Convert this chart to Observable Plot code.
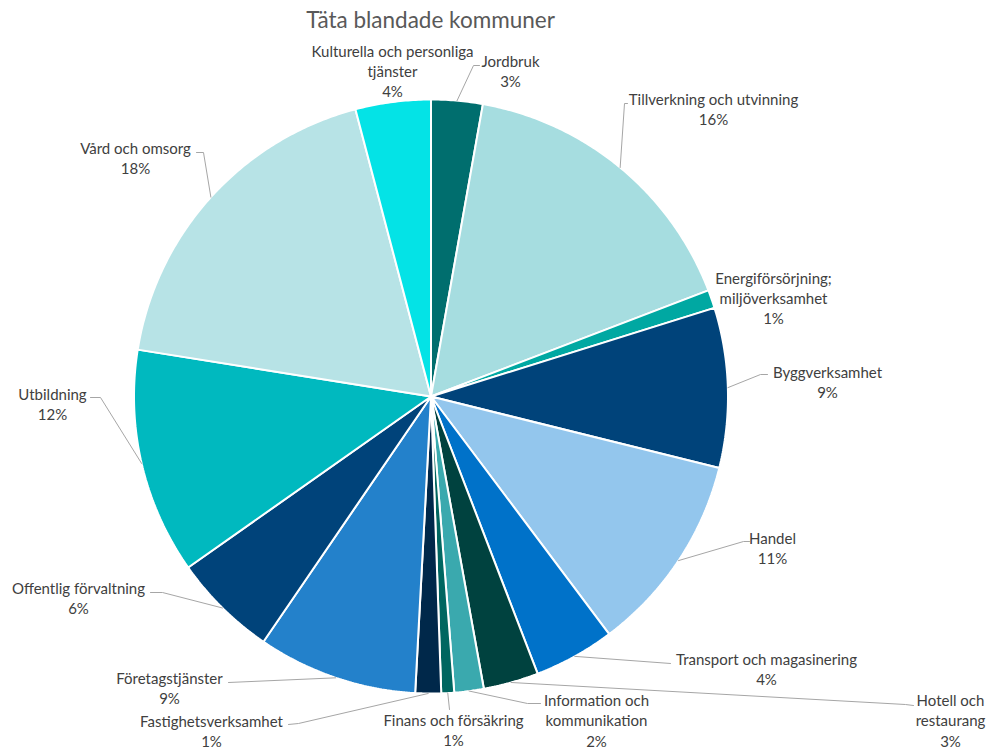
<!DOCTYPE html>
<html><head><meta charset="utf-8">
<script src="https://cdn.jsdelivr.net/npm/d3@7"></script>
<script src="https://cdn.jsdelivr.net/npm/@observablehq/plot@0.6"></script>
<style>html,body{margin:0;padding:0;background:#fff;}</style>
</head><body><div id="chart"></div>
<script>
// ---- data ----
const title = "Täta blandade kommuner";
const categories = [
  "Jordbruk", "Tillverkning och utvinning", "Energiförsörjning; miljöverksamhet",
  "Byggverksamhet", "Handel", "Transport och magasinering", "Hotell och restaurang",
  "Information och kommunikation", "Finans och försäkring", "Fastighetsverksamhet",
  "Företagstjänster", "Offentlig förvaltning", "Utbildning", "Vård och omsorg",
  "Kulturella och personliga tjänster"
];
const shares = [2.8, 16.4, 1.0, 8.7, 10.9, 4.4, 3.0, 1.6, 0.7, 1.4, 8.7, 5.7, 12.3, 18.4, 4.1];
const labelLines = [
  "Jordbruk", "Tillverkning och utvinning", "Energiförsörjning;\nmiljöverksamhet",
  "Byggverksamhet", "Handel", "Transport och magasinering", "Hotell och\nrestaurang",
  "Information och\nkommunikation", "Finans och försäkring", "Fastighetsverksamhet",
  "Företagstjänster", "Offentlig förvaltning", "Utbildning", "Vård och omsorg",
  "Kulturella och personliga\ntjänster"
];
const colors = [
  "#006e6e", "#a6dde0", "#00a8a2", "#00437a", "#93c6ed", "#0072c9", "#00423f",
  "#3aa9ae", "#006660", "#00284a", "#2381cb", "#00437a", "#00b9bf", "#b7e3e6", "#04e3e6"
];

// ---- layout (pixels) ----
const W = 990, H = 749, CX = 430.5, CY = 396, R = 297;
const labelPos = [
  [510, 70], [713, 108.5], [773, 297], [827, 381.5], [772, 547], [766, 668.5],
  [950, 719.5], [596, 719.5], [453, 729.5], [211, 730], [169, 687], [78, 597],
  [52, 403], [135, 157], [392, 70]
];
const leaderBends = [
  [[473, 65], [479, 65]],
  [[624, 103], [627, 103]],
  [],
  [[760, 374], [767, 374]],
  [[743, 541], [749, 541]],
  [[670, 663]],
  [[905, 704], [913, 705]],
  [[527, 703], [540, 703]],
  [[449, 709]],
  [[298, 723], [288, 724]],
  [[228, 682]],
  [[162, 592], [150, 592]],
  [[100, 397], [90, 397]],
  [[203, 152], [196, 152]],
  []
];
const titlePos = [430, 20];

const px = p => (p - CX) / R;
const py = p => (CY - p) / R;

// ---- derived ----
const rows = categories.map((name, i) => ({name, share: shares[i], i}));
const total = d3.sum(shares);
const arcs = d3.pie().sort(null).value(d => d.share).startAngle(0).endAngle(2 * Math.PI)(rows);

const slicePts = [];
const leaderPts = [];
const labels = [];
arcs.forEach(a => {
  const name = a.data.name;
  slicePts.push({name, x: 0, y: 0});
  const n = Math.max(2, Math.ceil((a.endAngle - a.startAngle) / (Math.PI / 360)));
  for (let k = 0; k <= n; k++) {
    const t = a.startAngle + (a.endAngle - a.startAngle) * k / n;
    slicePts.push({name, x: Math.sin(t), y: Math.cos(t)});
  }
  slicePts.push({name, x: 0, y: 0});
  const i = a.data.i;
  const mid = (a.startAngle + a.endAngle) / 2;
  if (leaderBends[i].length) {
    leaderPts.push({name, x: Math.sin(mid), y: Math.cos(mid)});
    leaderBends[i].forEach(([bx, by]) => leaderPts.push({name, x: px(bx), y: py(by)}));
  }
  labels.push({
    x: px(labelPos[i][0]), y: py(labelPos[i][1]),
    text: labelLines[i] + "\n" + Math.round(a.data.share / total * 100) + "%"
  });
});

const chart = Plot.plot({
  width: W, height: H, margin: 0,
  x: {domain: [-1, 1], range: [CX - R, CX + R], axis: null},
  y: {domain: [-1, 1], range: [CY + R, CY - R], axis: null},
  color: {domain: categories, range: colors},
  style: {fontFamily: "Lato, 'Open Sans', sans-serif", background: "#fff"},
  marks: [
    Plot.line(slicePts, {x: "x", y: "y", z: "name", fill: "name", stroke: "white", strokeWidth: 2, strokeLinejoin: "miter"}),
    Plot.line(leaderPts, {x: "x", y: "y", z: "name", stroke: "#a6a6a6", strokeWidth: 1}),
    Plot.text(labels, {x: "x", y: "y", text: "text", fontSize: 15, lineHeight: 1.34, fill: "#404040", textAnchor: "middle"}),
    Plot.text([title], {x: px(titlePos[0]), y: py(titlePos[1]), text: d => d, fontSize: 22.5, fill: "#595959", textAnchor: "middle"})
  ]
});
document.getElementById("chart").appendChild(chart);
</script>
</body></html>
